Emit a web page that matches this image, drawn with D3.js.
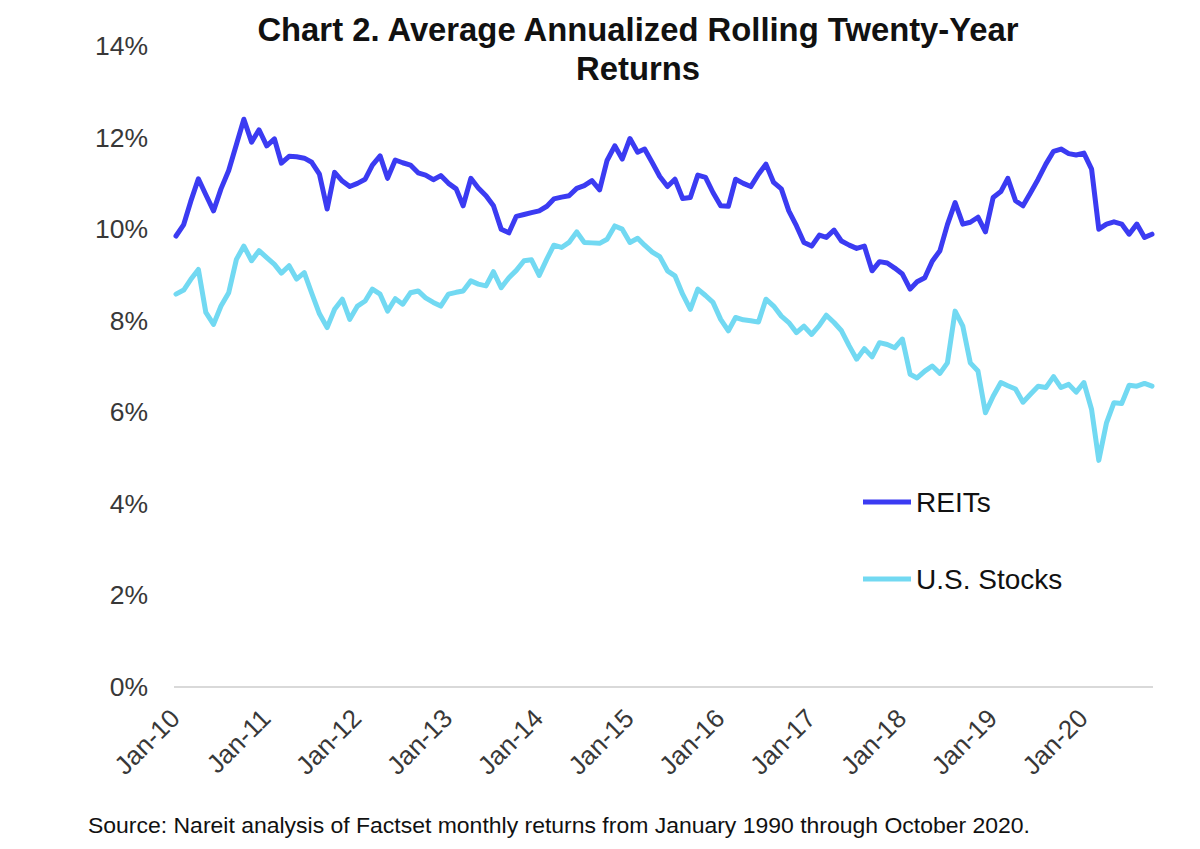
<!DOCTYPE html>
<html>
<head>
<meta charset="utf-8">
<script src="https://cdn.jsdelivr.net/npm/d3@7"></script>
<style>
  html, body { margin: 0; padding: 0; background: #fff; }
  svg { display: block; }
  text { font-family: "Liberation Sans", Arial, sans-serif; }
</style>
</head>
<body>
<svg id="chart" width="1200" height="849"></svg>
<script>
// ---- data (monthly, Jan-2010 .. Oct-2020) ----
const startMonth = "2010-01";
const reits = [
  9.85, 10.1, 10.6, 11.1, 10.75, 10.4, 10.88, 11.28, 11.85, 12.4,
  11.9, 12.17, 11.82, 11.97, 11.44, 11.59, 11.58, 11.55, 11.46, 11.2,
  10.44, 11.24, 11.05, 10.93, 11.0, 11.09, 11.4, 11.6, 11.11, 11.51,
  11.45, 11.4, 11.23, 11.18, 11.08, 11.17, 11.0, 10.88, 10.51, 11.11,
  10.9, 10.73, 10.51, 10.0, 9.92, 10.28, 10.32, 10.36, 10.4, 10.5,
  10.66, 10.7, 10.73, 10.89, 10.95, 11.06, 10.86, 11.5, 11.82, 11.53,
  11.98, 11.68, 11.75, 11.45, 11.15, 10.93, 11.09, 10.67, 10.69, 11.18,
  11.13, 10.8, 10.51, 10.5, 11.09, 11.0, 10.93, 11.2, 11.42, 11.02,
  10.88, 10.4, 10.07, 9.71, 9.63, 9.87, 9.82, 9.98, 9.74, 9.65,
  9.58, 9.63, 9.09, 9.29, 9.26, 9.15, 9.02, 8.69, 8.85, 8.94,
  9.3, 9.53, 10.1, 10.58, 10.11, 10.15, 10.26, 9.94, 10.69, 10.82,
  11.11, 10.62, 10.51, 10.8, 11.09, 11.42, 11.7, 11.75, 11.65, 11.62,
  11.66, 11.31, 10.0, 10.11, 10.16, 10.11, 9.89, 10.11, 9.82, 9.89
];
const usStocks = [
  8.58, 8.67, 8.9, 9.12, 8.18, 7.92, 8.32, 8.61, 9.34, 9.63,
  9.31, 9.53, 9.38, 9.23, 9.04, 9.2, 8.91, 9.05, 8.6, 8.15,
  7.85, 8.25, 8.47, 8.03, 8.32, 8.43, 8.69, 8.58, 8.21, 8.48,
  8.36, 8.61, 8.65, 8.5, 8.4, 8.32, 8.58, 8.62, 8.65, 8.87,
  8.8, 8.76, 9.07, 8.72, 8.94, 9.1, 9.31, 9.33, 8.99, 9.35,
  9.65, 9.6, 9.71, 9.94, 9.71, 9.7, 9.69, 9.78, 10.07, 10.0,
  9.71, 9.8, 9.65, 9.5, 9.4, 9.09, 8.98, 8.58, 8.25, 8.69,
  8.55, 8.4, 8.03, 7.78, 8.07, 8.02, 8.0, 7.97, 8.47, 8.32,
  8.1, 7.96, 7.74, 7.88, 7.7, 7.9, 8.12, 7.96, 7.78, 7.45,
  7.16, 7.39, 7.21, 7.52, 7.48, 7.41, 7.6, 6.83, 6.75, 6.9,
  7.01, 6.85, 7.08, 8.21, 7.88, 7.08, 6.9, 5.99, 6.35, 6.65,
  6.58, 6.51, 6.22, 6.4, 6.57, 6.54, 6.78, 6.54, 6.61, 6.44,
  6.65, 6.06, 4.95, 5.77, 6.21, 6.19, 6.59, 6.57, 6.63, 6.57
];
const seriesNames = ["REITs", "U.S. Stocks"];
const seriesColors = ["#3b3bf2", "#72d9f2"];
const yTicks = [0, 2, 4, 6, 8, 10, 12, 14];
const xTickLabels = ["Jan-10","Jan-11","Jan-12","Jan-13","Jan-14","Jan-15","Jan-16","Jan-17","Jan-18","Jan-19","Jan-20"];
const titleLines = ["Chart 2. Average Annualized Rolling Twenty-Year", "Returns"];
const sourceText = "Source: Nareit analysis of Factset monthly returns from January 1990 through October 2020.";

// ---- build ----
const parseMonth = d3.timeParse("%Y-%m");
const start = parseMonth(startMonth);
const months = reits.map((_, i) => d3.timeMonth.offset(start, i));
const series = [reits, usStocks];

const svg = d3.select("#chart");
const x = d3.scaleTime().domain([months[0], months[months.length - 1]]).range([176, 1152]);
const y = d3.scaleLinear().domain([0, 14]).range([687, 46]);

// title
svg.append("g").selectAll("text").data(titleLines).join("text")
  .attr("x", 638).attr("y", (d, i) => 41 + i * 39)
  .attr("text-anchor", "middle")
  .attr("font-size", 32.8).attr("font-weight", "bold").attr("fill", "#111")
  .text(d => d);

// y axis (labels only)
const yAxis = d3.axisLeft(y).tickValues(yTicks).tickSize(0).tickPadding(0)
  .tickFormat(d => d + "%");
svg.append("g").attr("transform", "translate(148,0)").call(yAxis)
  .call(g => g.select(".domain").remove())
  .call(g => g.selectAll("text").attr("font-size", 26.5).attr("fill", "#383838")
    .attr("font-family", "Liberation Sans, Arial, sans-serif"));

// x axis
const xTickDates = xTickLabels.map(s => d3.timeParse("%b-%y")(s));
const xAxis = d3.axisBottom(x).tickValues(xTickDates).tickSize(0)
  .tickFormat((d, i) => xTickLabels[i]);
const gx = svg.append("g").attr("transform", "translate(0,687)").call(xAxis);
gx.select(".domain").attr("stroke", "#d9d9d9").attr("stroke-width", 2)
  .attr("d", "M174,0H1153");
gx.selectAll(".tick text")
  .attr("font-size", 26).attr("fill", "#383838")
  .attr("font-family", "Liberation Sans, Arial, sans-serif")
  .attr("text-anchor", "end")
  .attr("y", 0).attr("dy", 0)
  .attr("transform", "translate(5,33) rotate(-45)");

// lines
const line = d3.line().x((d, i) => x(months[i])).y(d => y(d));
svg.append("g").selectAll("path").data(series).join("path")
  .attr("d", d => line(d))
  .attr("fill", "none")
  .attr("stroke", (d, i) => seriesColors[i])
  .attr("stroke-width", 5)
  .attr("stroke-linejoin", "round")
  .attr("stroke-linecap", "round");

// legend
const lg = svg.append("g").selectAll("g").data(seriesNames).join("g")
  .attr("transform", (d, i) => `translate(863,${502 + i * 77})`);
lg.append("line").attr("x1", 0).attr("x2", 48).attr("y1", 0).attr("y2", 0)
  .attr("stroke", (d, i) => seriesColors[i]).attr("stroke-width", 5);
lg.append("text").attr("x", 53).attr("y", 10)
  .attr("font-size", 28).attr("fill", "#111").text(d => d);

// source
svg.append("text").attr("x", 88).attr("y", 833)
  .attr("font-size", 22).attr("fill", "#111")
  .attr("textLength", 942).attr("lengthAdjust", "spacingAndGlyphs")
  .text(sourceText);
</script>
</body>
</html>
